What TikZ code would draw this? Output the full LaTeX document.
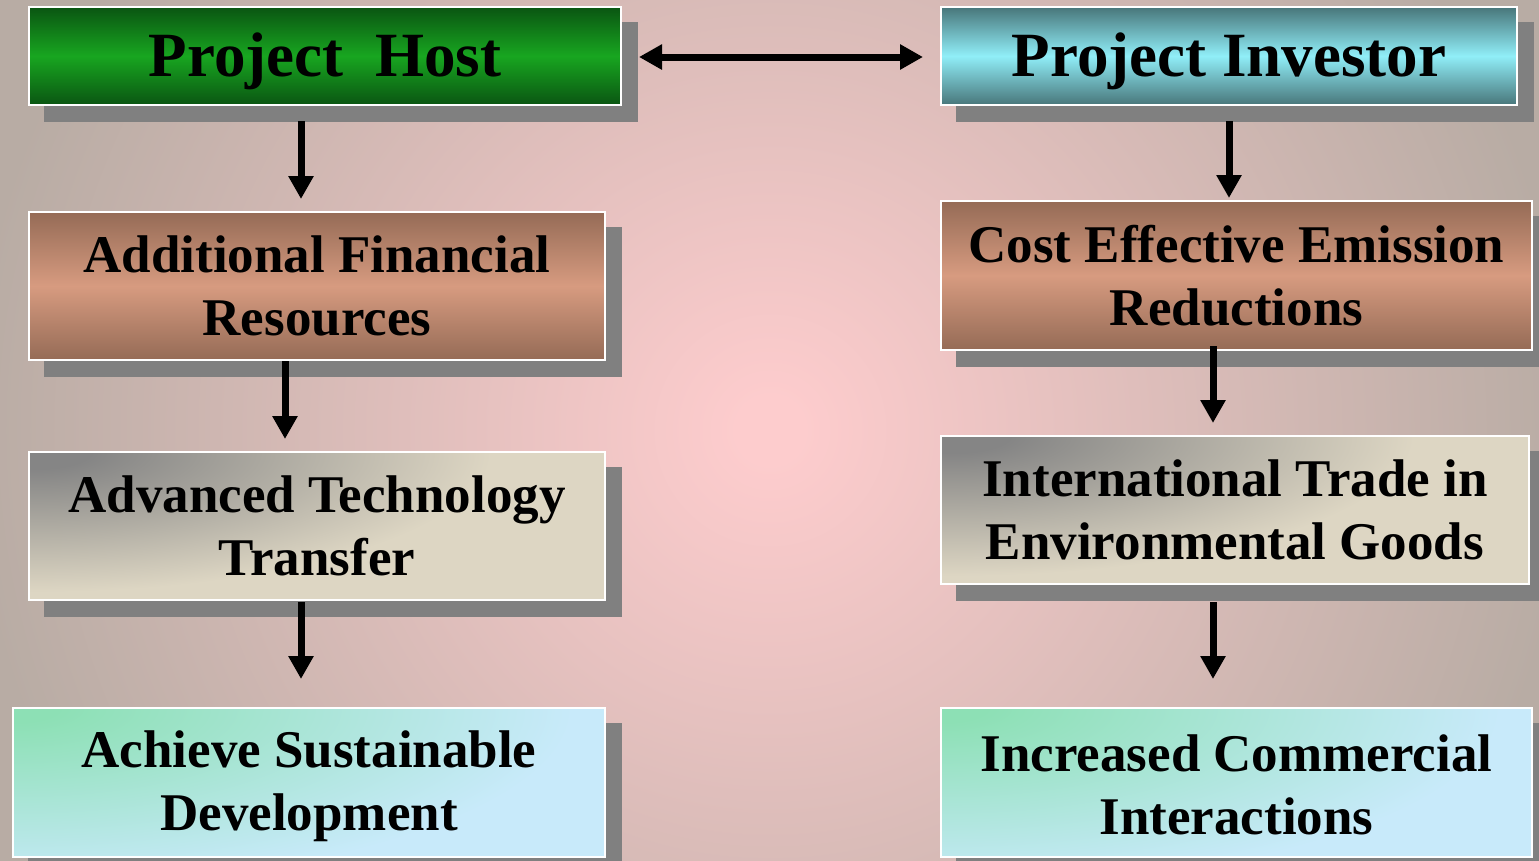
\documentclass[tikz,border=0pt]{standalone}
\usepackage{fontspec}
\setmainfont{Liberation Serif}
\usetikzlibrary{arrows.meta}
\definecolor{bgpink}{RGB}{253,204,205}
\definecolor{bggray}{RGB}{184,172,164}
\definecolor{hostdark}{RGB}{10,85,18}
\definecolor{hostmid}{RGB}{24,166,32}
\definecolor{invdark}{RGB}{72,118,122}
\definecolor{invmid}{RGB}{144,238,248}
\definecolor{brdark}{RGB}{149,107,86}
\definecolor{brmid}{RGB}{215,155,128}
\definecolor{atgray}{RGB}{133,133,133}
\definecolor{atbeige}{RGB}{221,214,195}
\definecolor{mint}{RGB}{141,224,181}
\definecolor{lblue}{RGB}{200,234,250}
\definecolor{shadowgray}{RGB}{128,128,128}
\pgfdeclareradialshading{bgrad}{\pgfpoint{0bp}{0bp}}{color(0bp)=(bgpink); color(1bp)=(bgpink); color(25bp)=(bggray); color(50bp)=(bggray)}
\pgfdeclareradialshading{graycorner}{\pgfpoint{0bp}{0bp}}{color(0bp)=(atgray); color(2.4bp)=(atgray); color(20bp)=(atbeige); color(50bp)=(atbeige)}
\pgfdeclareradialshading{mintcorner}{\pgfpoint{0bp}{0bp}}{color(0bp)=(mint); color(1.6bp)=(mint); color(20bp)=(lblue); color(50bp)=(lblue)}
\pgfdeclarelayer{bg}
\pgfdeclarelayer{shad}
\pgfsetlayers{bg,shad,main}
\begin{document}
\begin{tikzpicture}[x=1pt,y=-1pt,
  box/.style={draw=white, line width=2pt, inner sep=0pt, anchor=north west,
    align=center, text=black, font=\fontsize{53}{63}\selectfont\bfseries},
  titlebox/.style={box, font=\fontsize{63}{70}\selectfont\bfseries},
  greenfill/.style={top color=hostdark, bottom color=hostdark, middle color=hostmid},
  cyanfill/.style={top color=invdark, bottom color=invdark, middle color=invmid},
  brownfill/.style={top color=brdark, bottom color=brdark, middle color=brmid},
  grayfill/.style={fill=atbeige, path picture={
    \shade[shading=graycorner] ([shift={(-562pt,175pt)}]path picture bounding box.north west) rectangle ([shift={(562pt,-175pt)}]path picture bounding box.north west);}},
  mintfill/.style={fill=lblue, path picture={
    \shade[shading=mintcorner] ([shift={(-700pt,225pt)}]path picture bounding box.north west) rectangle ([shift={(700pt,-225pt)}]path picture bounding box.north west);}},
  arr/.style={line width=7pt, -{Triangle[width=24pt,length=23pt]}},
  darr/.style={line width=7pt, {Triangle[width=24pt,length=23pt]}-{Triangle[width=24pt,length=23pt]}}
]
\useasboundingbox (0,0) rectangle (1539,860);
\begin{pgfonlayer}{bg}
  \clip (0,0) rectangle (1539,860);
  \shade[shading=bgrad] (-30,-370) rectangle (1570,1230);
\end{pgfonlayer}

% left column
\node[titlebox, greenfill, minimum width=592pt, minimum height=98pt] (host) at (28,6) {\raisebox{-5pt}[\height][\depth]{Project\ \ Host}};
\node[box, brownfill, minimum width=576pt, minimum height=148pt] (afr) at (28,211) {Additional Financial\\Resources};
\node[box, grayfill, minimum width=576pt, minimum height=148pt] (att) at (28,451) {Advanced Technology\\Transfer};
\node[box, mintfill, minimum width=592pt, minimum height=149pt] (asd) at (12,707) {\raisebox{-4pt}[\height][\depth]{Achieve Sustainable}\\\raisebox{-4pt}[\height][\depth]{Development}};

% right column
\node[titlebox, cyanfill, minimum width=576pt, minimum height=98pt] (inv) at (940,6) {\raisebox{-5pt}[\height][\depth]{Project Investor}};
\node[box, brownfill, minimum width=591pt, minimum height=149pt] (cee) at (940,200) {Cost Effective Emission\\Reductions};
\node[box, grayfill, minimum width=588pt, minimum height=148pt] (itg) at (940,435) {International Trade in\\Environmental Goods};
\node[box, mintfill, minimum width=591pt, minimum height=149pt] (ici) at (940,707) {\raisebox{-2pt}[\height][\depth]{Increased Commercial}\\\raisebox{-2pt}[\height][\depth]{Interactions}};

% shadows
\begin{pgfonlayer}{shad}
  \foreach \n in {host,afr,att,asd,inv,cee,itg,ici}
    \fill[shadowgray] ([shift={(16pt,-16pt)}]\n.north west) rectangle ([shift={(16pt,-16pt)}]\n.south east);
\end{pgfonlayer}

% connectors
\draw[darr, shorten <=17pt, shorten >=17pt] ([yshift=-1pt]host.east) -- ([yshift=-1pt]host.east -| inv.west);
\draw[arr, shorten >=12pt] ([xshift=-24pt,yshift=-15pt]host.south) -- ([xshift=-24pt]host.south |- afr.north);
\draw[arr, shorten >=12pt] ([xshift=-32pt]afr.south) -- ([xshift=-32pt]afr.south |- att.north);
\draw[arr, shorten >=28pt] ([xshift=-16pt,yshift=-1pt]att.south) -- ([xshift=-16pt]att.south |- asd.north);
\draw[arr, shorten >=2pt] ([yshift=-15pt]inv.south) -- (inv.south |- cee.north);
\draw[arr, shorten >=12pt] ([xshift=-23.5pt,yshift=5pt]cee.south) -- ([xshift=-23.5pt]cee.south |- itg.north);
\draw[arr, shorten >=28pt] ([xshift=-22pt,yshift=-17pt]itg.south) -- ([xshift=-22pt]itg.south |- ici.north);
\end{tikzpicture}
\end{document}
